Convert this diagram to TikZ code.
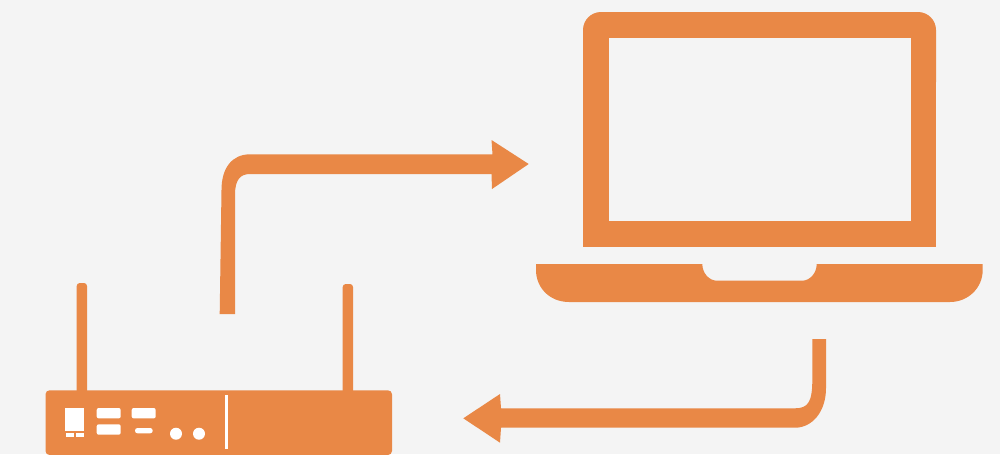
\documentclass[tikz,border=0pt]{standalone}
\definecolor{iconorange}{HTML}{E98846}
\definecolor{paper}{HTML}{F4F4F4}
\tikzset{
	icon/.style={fill=iconorange},
	cutout/.style={fill=paper},
	led/.style={fill=white},
}
\begin{document}
\begin{tikzpicture}[x=0.01cm, y=-0.01cm]
		% Background
		\useasboundingbox (0,0) rectangle (1000,454);
		\fill[cutout] (0,0) rectangle (1000,454);
		
		% Laptop screen
		\fill[icon, rounded corners=0.18cm] (583,100) -- (583,12) -- (936,12) -- (936,100) -- cycle;
		\fill[icon] (583,50) rectangle (936,247);
		\fill[cutout] (608.5,38) rectangle (911,221);
		
		% Laptop base with notch
		\fill[icon] (536,264) -- (702.3,264) .. controls (702.3,273) and (709,280.7) .. (717,280.7) -- (802,280.7) .. controls (810,280.7) and (816.7,273) .. (816.7,264) -- (982.7,264) -- (982.7,270) .. controls (982.7,288) and (968,302) .. (950,302) -- (569,302) .. controls (550,302) and (536,288) .. (536,270) -- cycle;
		
		% Antennas
		\foreach \ax/\atop in {76.7/283, 342.7/284}
			\fill[icon, rounded corners=0.03cm] (\ax,395) -- (\ax,\atop) -- (\ax+10.3,\atop) -- (\ax+10.3,395) -- cycle;
		
		% Router body
		\fill[icon, rounded corners=0.04cm] (45.5,390.3) rectangle (392,455);
		
		% Router front panel
		\fill[led] (65,408) rectangle (84,431);
		\fill[led] (66,433) rectangle (74,437);
		\fill[led] (76,433) rectangle (84,437);
		\foreach \bx/\by in {96.7/408, 96.7/424.3, 131.7/408}
			\fill[led, rounded corners=0.02cm] (\bx,\by) rectangle (\bx+24,\by+10.4);
		\fill[led, rounded corners=0.025cm] (135,428) rectangle (152.7,433.3);
		\fill[led] (176,433.7) circle (6);
		\fill[led] (199,433.7) circle (6);
		\fill[led] (225.3,394.7) rectangle (228,449.3);
		
		% Arrow from router to laptop
		\fill[icon] (219.7,314) -- (221.5,190) .. controls (221.5,168) and (232,154.3) .. (250,154.3) -- (492.5,154.3) -- (491.5,140) -- (528.7,164) -- (492,189) -- (491.5,174) -- (250,174) .. controls (240,174) and (235,180) .. (235,195) -- (235,314) -- cycle;
		
		% Arrow from laptop to router
		\fill[icon] (812.3,339) -- (826,339) -- (826,388) .. controls (826,412) and (812,427.7) .. (795,427.7) -- (501,427.7) -- (500,442.7) -- (463.3,418.3) -- (500,394) -- (501,408.3) -- (795,408.3) .. controls (808,408.3) and (812.3,402) .. (812.3,380) -- cycle;
		
	\end{tikzpicture}
\end{document}
